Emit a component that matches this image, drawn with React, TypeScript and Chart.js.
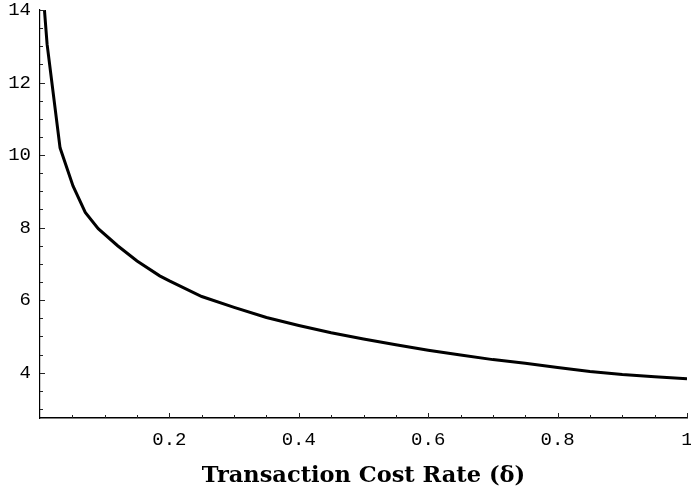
import React, { useEffect, useRef } from "react";
import { Chart, registerables } from "chart.js";

Chart.register(...registerables);

// Transaction cost rate (delta) sample points
const deltaValues = [0.006, 0.011, 0.031, 0.051, 0.07, 0.09, 0.12, 0.15, 0.185, 0.2, 0.25, 0.3, 0.35, 0.4, 0.45, 0.5, 0.55, 0.6, 0.65, 0.7, 0.75, 0.8, 0.85, 0.9, 0.95, 1.0];
const curveValues = [14.2, 13.05, 10.2, 9.15, 8.42, 7.97, 7.5, 7.08, 6.67, 6.53, 6.1, 5.8, 5.52, 5.3, 5.1, 4.93, 4.77, 4.62, 4.49, 4.36, 4.26, 4.14, 4.03, 3.95, 3.89, 3.83];

const xTickValues = [0.2, 0.4, 0.6, 0.8, 1];
const xTickLabels = ["0.2", "0.4", "0.6", "0.8", "1"];
const yTickValues = [4, 6, 8, 10, 12, 14];
const yTickLabels = ["4", "6", "8", "10", "12", "14"];
const xMinorStep = 0.05;
const yMinorStep = 0.5;

const X_MIN = 0;
const X_MAX = 1;
const Y_MIN = 2.75;
const Y_MAX = 14;

const tickPlugin = {
  id: "inwardTicks",
  afterDatasetsDraw(chart: any) {
    const { ctx, chartArea, scales } = chart;
    const xs = scales.x;
    const ys = scales.y;
    ctx.save();
    ctx.strokeStyle = "#222";
    ctx.lineWidth = 1;
    for (let i = 1; i * xMinorStep <= X_MAX + 1e-9; i++) {
      const v = i * xMinorStep;
      const isMajor = xTickValues.some((t) => Math.abs(t - v) < 1e-6);
      const px = Math.round(xs.getPixelForValue(v)) + 0.5;
      const len = isMajor ? 5 : 3;
      ctx.beginPath();
      ctx.moveTo(px, chartArea.bottom);
      ctx.lineTo(px, chartArea.bottom - len);
      ctx.stroke();
    }
    for (let i = 0; 3 + i * yMinorStep <= Y_MAX + 1e-9; i++) {
      const v = 3 + i * yMinorStep;
      const isMajor = yTickValues.some((t) => Math.abs(t - v) < 1e-6);
      const py = Math.round(ys.getPixelForValue(v)) + 0.5;
      const len = isMajor ? 5 : 3;
      ctx.beginPath();
      ctx.moveTo(chartArea.left, py);
      ctx.lineTo(chartArea.left + len, py);
      ctx.stroke();
    }
    ctx.restore();
  },
};

export default function App() {
  const canvasRef = useRef<HTMLCanvasElement | null>(null);

  useEffect(() => {
    if (!canvasRef.current) return;
    const chart = new Chart(canvasRef.current, {
      type: "line",
      data: {
        datasets: [
          {
            data: deltaValues.map((d, i) => ({ x: d, y: curveValues[i] })),
            borderColor: "#000",
            borderWidth: 3,
            pointRadius: 0,
            tension: 0,
            fill: false,
          },
        ],
      },
      options: {
        responsive: false,
        animation: false,
        layout: { padding: { top: 10, right: 4, left: 0, bottom: 0 } },
        plugins: {
          legend: { display: false },
          tooltip: { enabled: false },
        },
        scales: {
          x: {
            type: "linear",
            min: X_MIN,
            max: X_MAX,
            grid: { display: false, drawTicks: false },
            border: { display: true, color: "#000", width: 1.6 },
            afterBuildTicks: (scale: any) => {
              scale.ticks = xTickValues.map((v) => ({ value: v }));
            },
            afterFit: (scale: any) => {
              scale.height = 83;
              scale.paddingLeft = 0;
              scale.paddingRight = 0;
            },
            ticks: {
              autoSkip: false,
              maxRotation: 0,
              padding: 11,
              color: "#000",
              font: { family: "'Liberation Mono', 'DejaVu Sans Mono', monospace", size: 19 },
              callback: (value: any) => {
                const idx = xTickValues.findIndex((t) => Math.abs(t - Number(value)) < 1e-6);
                return idx >= 0 ? xTickLabels[idx] : "";
              },
            },
            title: {
              display: true,
              text: "Transaction Cost Rate (δ)",
              color: "#000",
              font: { family: "'DejaVu Serif', 'Liberation Serif', serif", size: 22.5, weight: "bold" },
              padding: { top: 0, bottom: 11 },
            },
          },
          y: {
            type: "linear",
            min: Y_MIN,
            max: Y_MAX,
            grid: { display: false, drawTicks: false },
            border: { display: true, color: "#000", width: 1.2 },
            afterBuildTicks: (scale: any) => {
              scale.ticks = yTickValues.map((v) => ({ value: v }));
            },
            afterFit: (scale: any) => {
              scale.width = 40;
              scale.paddingTop = 0;
              scale.paddingBottom = 0;
            },
            ticks: {
              autoSkip: false,
              padding: 9,
              color: "#000",
              font: { family: "'Liberation Mono', 'DejaVu Sans Mono', monospace", size: 19 },
              callback: (value: any) => {
                const idx = yTickValues.findIndex((t) => Math.abs(t - Number(value)) < 1e-6);
                return idx >= 0 ? yTickLabels[idx] : "";
              },
            },
          },
        },
      },
      plugins: [tickPlugin],
    });
    return () => chart.destroy();
  }, []);

  return (
    <div style={{ position: "fixed", left: 0, top: 0, width: 691, height: 501, background: "#fff" }}>
      <canvas ref={canvasRef} width={691} height={501} style={{ display: "block" }} />
    </div>
  );
}
